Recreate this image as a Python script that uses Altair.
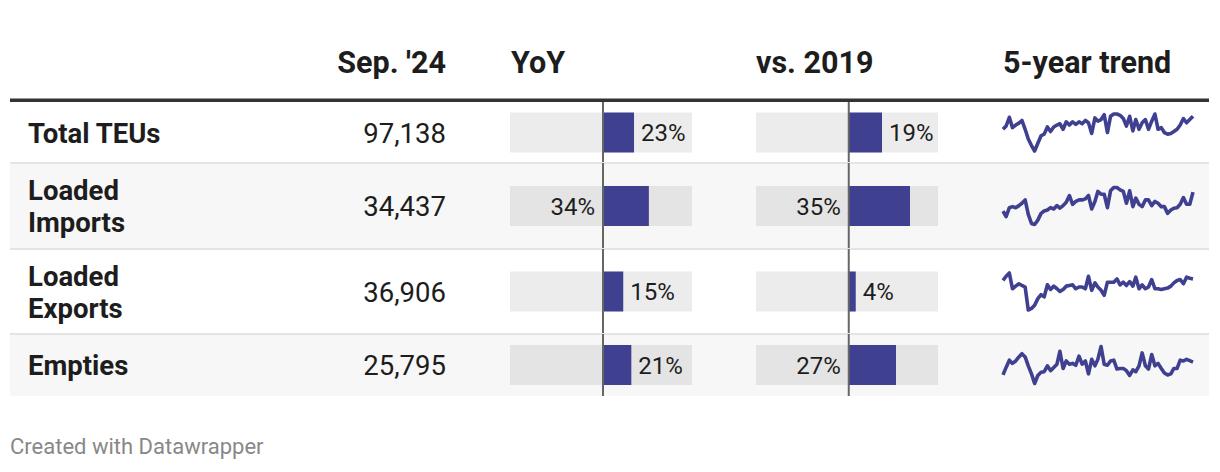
import altair as alt
import pandas as pd

# ---------------- data ----------------
categories = ["Total TEUs", "Loaded\nImports", "Loaded\nExports", "Empties"]
sep24 = [97138, 34437, 36906, 25795]
yoy = [23, 34, 15, 21]
vs2019 = [19, 35, 4, 27]
headers = ["Sep. '24", "YoY", "vs. 2019", "5-year trend"]
footer_text = "Created with Datawrapper"

months = pd.date_range("2019-09-01", periods=61, freq="MS")

# monthly TEUs (thousands), read from the sparklines
trend_total = [79.1, 83.6, 95.8, 81.4, 85.0, 87.7, 91.3, 79.1, 65.6, 56.6,
               49.0, 59.8, 70.1, 72.4, 82.3, 76.0, 82.3, 85.0, 86.8, 79.1,
               89.5, 85.0, 89.5, 85.9, 89.5, 86.8, 91.3, 88.1, 73.3, 94.9,
               90.4, 92.6, 99.4, 74.6, 97.1, 100.3, 100.3, 98.5, 94.0, 83.6,
               97.1, 76.9, 92.6, 79.1, 88.1, 92.6, 79.1, 90.4, 100.3, 79.1,
               81.4, 74.6, 72.4, 73.3, 76.0, 79.1, 85.0, 94.0, 88.1, 92.6, 97.1]
trend_imports = [27.1, 24.9, 28.4, 28.8, 28.4, 29.2, 30.1, 31.4, 25.8, 22.3,
                 21.9, 23.6, 26.2, 27.1, 27.5, 28.4, 27.9, 29.2, 28.2, 29.2,
                 30.5, 33.1, 29.7, 30.8, 31.4, 31.4, 31.8, 33.1, 27.9, 30.8,
                 34.7, 33.6, 33.6, 28.4, 34.9, 36.2, 36.2, 35.3, 34.7, 30.1,
                 34.9, 28.8, 32.1, 29.7, 28.8, 31.4, 31.4, 29.2, 30.8, 30.1,
                 28.8, 28.8, 26.2, 27.5, 28.2, 28.4, 29.7, 32.3, 29.7, 29.7, 34.4]
trend_exports = [36.2, 38.1, 39.6, 32.4, 33.6, 34.7, 33.9, 33.2, 22.7, 23.4,
                 24.9, 27.9, 29.7, 28.7, 34.2, 32.1, 33.6, 32.4, 31.2, 32.1,
                 33.6, 33.9, 34.2, 32.4, 33.2, 33.2, 32.4, 38.1, 31.7, 35.1,
                 33.2, 31.7, 29.4, 35.4, 35.4, 35.4, 36.9, 34.2, 35.4, 33.9,
                 35.7, 33.6, 37.7, 32.4, 34.2, 32.4, 33.2, 36.6, 32.4, 32.4,
                 32.1, 32.4, 32.7, 33.6, 35.1, 36.2, 36.6, 34.7, 37.7, 37.2, 36.9]
trend_empties = [21.0, 23.8, 26.5, 25.3, 26.2, 27.7, 28.9, 27.7, 24.4, 21.4,
                 17.8, 20.8, 22.0, 22.2, 24.4, 22.6, 23.8, 25.0, 29.8, 23.4,
                 26.2, 25.0, 25.3, 24.6, 28.0, 25.0, 26.2, 21.4, 26.8, 24.4,
                 26.8, 31.6, 25.0, 24.6, 26.2, 26.5, 23.2, 23.4, 23.4, 22.6,
                 20.8, 22.9, 22.2, 24.4, 29.2, 24.4, 23.2, 28.6, 24.4, 25.3,
                 23.4, 21.7, 21.0, 21.4, 23.4, 23.4, 26.5, 26.2, 26.8, 26.3, 25.8]
trends = [trend_total, trend_imports, trend_exports, trend_empties]

# ---------------- layout / style ----------------
FONT = "Roboto"
TEXT = "#1d1d1d"
BAR = "#404091"
W = 1199
HEADER_H = 94
ROW_H = [61, 86, 85, 62]
STRIPED = [False, True, False, True]

YOY_DOM = [-69, 66]
VS_DOM = [-53, 51]
YOY_RANGE = [500, 682]
VS_RANGE = [746, 928]
SPARK_RANGE = [993, 1183]


def text_layer(txt, x, y, size, weight="normal", align="left", color=TEXT, line_height=None):
    props = dict(font=FONT, fontSize=size, fontWeight=weight, align=align,
                 baseline="alphabetic", color=color, lineBreak="\n")
    if line_height:
        props["lineHeight"] = line_height
    return alt.Chart(pd.DataFrame({"t": [txt]})).mark_text(**props).encode(
        text="t:N", x=alt.value(x), y=alt.value(y))


def bar_block(value, dom, rng, h):
    scale = alt.Scale(domain=dom, range=rng)
    df = pd.DataFrame({"v": [value], "lab": [f"{value}%"], "zero": [0]})
    base = alt.Chart(df)
    bg = base.mark_rect(color="#000000", opacity=0.075).encode(
        x=alt.datum(dom[0], scale=scale, axis=None),
        x2=alt.datum(dom[1]),
        y=alt.value(h / 2 - 20), y2=alt.value(h / 2 + 20))
    bar = base.mark_rect(color=BAR).encode(
        x=alt.X("v:Q", scale=scale, axis=None),
        x2=alt.X2("zero:Q"),
        y=alt.value(h / 2 - 20), y2=alt.value(h / 2 + 20))
    zero = base.mark_rule(color="#666666", strokeWidth=2).encode(
        x=alt.X("zero:Q", scale=scale, axis=None),
        y=alt.value(0), y2=alt.value(h))
    # label goes right of the bar if it fits inside the grey track, else left of zero
    span = rng[1] - rng[0]
    end_px = (value - dom[0]) / (dom[1] - dom[0]) * span
    fits = end_px + 7 + 44 <= span
    if fits:
        lab = base.mark_text(font=FONT, fontSize=24, color=TEXT, align="left",
                             baseline="alphabetic", dx=7).encode(
            x=alt.X("v:Q", scale=scale, axis=None), y=alt.value(h / 2 + 8.5), text="lab:N")
    else:
        lab = base.mark_text(font=FONT, fontSize=24, color=TEXT, align="right",
                             baseline="alphabetic", dx=-8).encode(
            x=alt.X("zero:Q", scale=scale, axis=None), y=alt.value(h / 2 + 8.5), text="lab:N")
    return alt.layer(bg, bar, zero, lab)


def spark(values, h):
    df = pd.DataFrame({"date": months, "teu": values})
    return alt.Chart(df).mark_line(color=BAR, strokeWidth=3.6, strokeJoin="round").encode(
        x=alt.X("date:T", scale=alt.Scale(range=SPARK_RANGE), axis=None),
        y=alt.Y("teu:Q", scale=alt.Scale(zero=False, nice=False, range=[h / 2 + 18.5, h / 2 - 18.5]),
                axis=None))


# header
HF = 30.5
header = alt.layer(
    text_layer(headers[0], 436, 65, HF, "bold", "right"),
    text_layer(headers[1], 501, 65, HF, "bold"),
    text_layer(headers[2], 746, 65, HF, "bold"),
    text_layer(headers[3], 993, 65, HF, "bold"),
    alt.Chart(pd.DataFrame({"a": [0]})).mark_rule(color="#333333", strokeWidth=3.6).encode(
        x=alt.value(0), x2=alt.value(W), y=alt.value(92.2)),
).properties(width=W, height=HEADER_H)

rows = []
for i, name in enumerate(categories):
    h = ROW_H[i]
    layers = []
    if STRIPED[i]:
        layers.append(alt.Chart(pd.DataFrame({"a": [0]})).mark_rect(color="#f7f7f7").encode(
            x=alt.value(0), x2=alt.value(W), y=alt.value(0), y2=alt.value(h)))
    if i > 0:
        layers.append(alt.Chart(pd.DataFrame({"a": [0]})).mark_rule(color="#e4e4e4", strokeWidth=2).encode(
            x=alt.value(0), x2=alt.value(W), y=alt.value(0)))
    n_lines = name.count("\n") + 1
    layers.append(text_layer(name, 18, h / 2 + 10 - (n_lines - 1) * 16, 27.5, "bold", line_height=32))
    layers.append(text_layer(f"{sep24[i]:,}", 436, h / 2 + 10, 27.5, "normal", "right"))
    layers.append(bar_block(yoy[i], YOY_DOM, YOY_RANGE, h))
    layers.append(bar_block(vs2019[i], VS_DOM, VS_RANGE, h))
    layers.append(spark(trends[i], h))
    row = alt.layer(*layers).resolve_scale(x="independent", y="independent").properties(width=W, height=h)
    rows.append(row)

footer = text_layer(footer_text, 0, 58, 22, "normal", color="#888888").properties(width=W, height=66)

chart = alt.vconcat(header, *rows, footer, spacing=0, bounds="flush").resolve_scale(
    x="independent", y="independent"
).properties(
    padding={"left": 0, "top": 0, "right": 0, "bottom": 0}, background="white"
).configure_view(strokeWidth=0)

chart.save("out.html", embed_options={"renderer": "svg", "actions": False})
